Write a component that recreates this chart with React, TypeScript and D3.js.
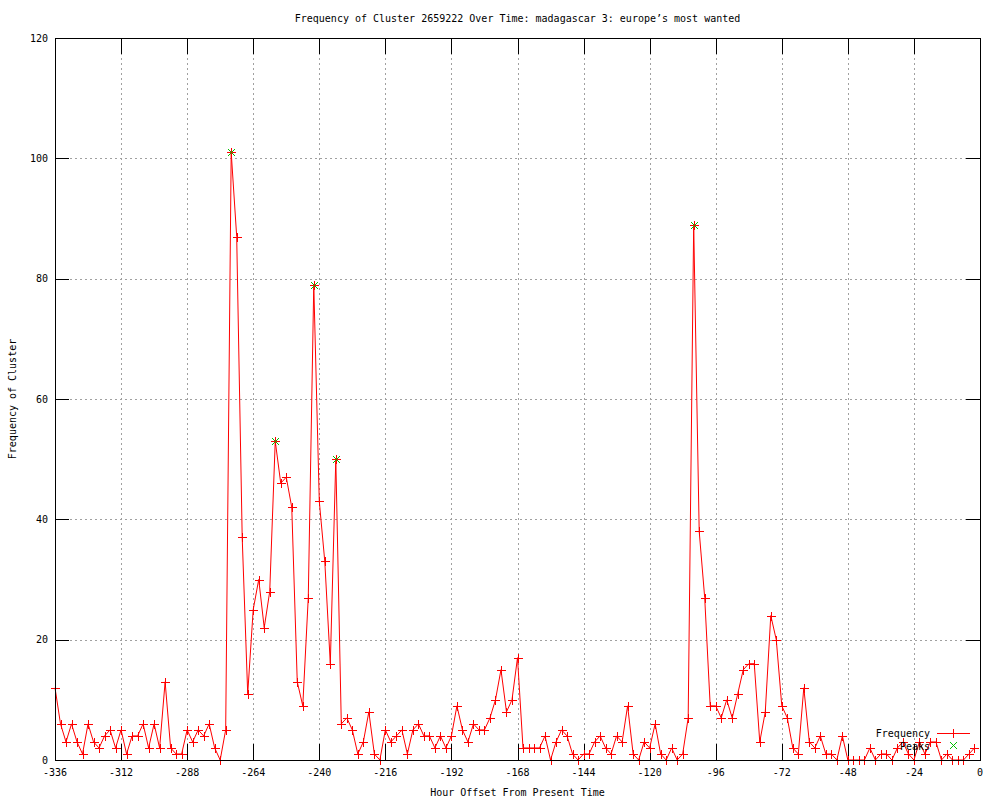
import React from 'react';
import * as d3 from 'd3';

const hours = [
  -336, -334, -332, -330, -328, -326, -324, -322, -320, -318, -316, -314, -312, -310, -308, -306,
  -304, -302, -300, -298, -296, -294, -292, -290, -288, -286, -284, -282, -280, -278, -276, -274,
  -272, -270, -268, -266, -264, -262, -260, -258, -256, -254, -252, -250, -248, -246, -244, -242,
  -240, -238, -236, -234, -232, -230, -228, -226, -224, -222, -220, -218, -216, -214, -212, -210,
  -208, -206, -204, -202, -200, -198, -196, -194, -192, -190, -188, -186, -184, -182, -180, -178,
  -176, -174, -172, -170, -168, -166, -164, -162, -160, -158, -156, -154, -152, -150, -148, -146,
  -144, -142, -140, -138, -136, -134, -132, -130, -128, -126, -124, -122, -120, -118, -116, -114,
  -112, -110, -108, -106, -104, -102, -100, -98, -96, -94, -92, -90, -88, -86, -84, -82,
  -80, -78, -76, -74, -72, -70, -68, -66, -64, -62, -60, -58, -56, -54, -52, -50,
  -48, -46, -44, -42, -40, -38, -36, -34, -32, -30, -28, -26, -24, -22, -20, -18,
  -16, -14, -12, -10, -8, -6, -4, -2,
];

const frequency = [
  12, 6, 3, 6, 3, 1, 6, 3, 2, 4, 5, 2, 5, 1, 4, 4,
  6, 2, 6, 2, 13, 2, 1, 1, 5, 3, 5, 4, 6, 2, 0, 5,
  101, 87, 37, 11, 25, 30, 22, 28, 53, 46, 47, 42, 13, 9, 27, 79,
  43, 33, 16, 50, 6, 7, 5, 1, 3, 8, 1, 0, 5, 3, 4, 5,
  1, 5, 6, 4, 4, 2, 4, 2, 4, 9, 5, 3, 6, 5, 5, 7,
  10, 15, 8, 10, 17, 2, 2, 2, 2, 4, 0, 3, 5, 4, 1, 0,
  1, 1, 3, 4, 2, 1, 4, 3, 9, 1, 0, 3, 2, 6, 1, 0,
  2, 0, 1, 7, 89, 38, 27, 9, 9, 7, 10, 7, 11, 15, 16, 16,
  3, 8, 24, 20, 9, 7, 2, 1, 12, 3, 2, 4, 1, 1, 0, 4,
  0, 0, 0, 0, 2, 0, 1, 1, 0, 2, 3, 1, 0, 3, 1, 3,
  3, 0, 1, 0, 0, 0, 1, 2,
];

const peakHours = [-272, -256, -242, -234, -104];
const peakValues = [101, 53, 79, 50, 89];

const xTicks = [-336, -312, -288, -264, -240, -216, -192, -168, -144, -120, -96, -72, -48, -24, 0];
const yTicks = [0, 20, 40, 60, 80, 100, 120];

const titleText = "Frequency of Cluster 2659222 Over Time: madagascar 3: europe\u2019s most wanted";
const xLabel = 'Hour Offset From Present Time';
const yLabel = 'Frequency of Cluster';

const W = 1000;
const H = 800;
const L = 55;
const R = 980;
const T = 38;
const B = 760;
const FONT = '"DejaVu Sans Mono", "Liberation Mono", monospace';

function Plus({ x, y, s, color }: { x: number; y: number; s: number; color: string }) {
  return (
    <path
      d={`M${x - s},${y}H${x + s}M${x},${y - s}V${y + s}`}
      stroke={color}
      strokeWidth={1}
      fill="none"
      shapeRendering="crispEdges"
    />
  );
}

function Cross({ x, y, s, color }: { x: number; y: number; s: number; color: string }) {
  return (
    <path
      d={`M${x - s},${y - s}L${x + s},${y + s}M${x - s},${y + s}L${x + s},${y - s}`}
      stroke={color}
      strokeWidth={1}
      fill="none"
    />
  );
}

export default function App() {
  const xs = d3.scaleLinear().domain([-336, 0]).range([L, R]);
  const ys = d3.scaleLinear().domain([0, 120]).range([B, T]);

  const data = hours.map((h, i) => ({ h, v: frequency[i] }));
  const line = d3
    .line<{ h: number; v: number }>()
    .x((d) => xs(d.h))
    .y((d) => ys(d.v));

  const tickX = 16;
  const tickY = 14;
  const gridColor = '#a0a0a0';

  return (
    <svg
      width={W}
      height={H}
      style={{ position: 'absolute', left: 0, top: 0, background: '#fff' }}
      fontFamily={FONT}
      fontSize={10}
    >
      <rect x={0} y={0} width={W} height={H} fill="#fff" />
      {/* grid */}
      <g stroke={gridColor} strokeDasharray="2,3" shapeRendering="crispEdges">
        {xTicks
          .filter((t) => t !== -336 && t !== 0)
          .map((t) => (
            <line key={'gx' + t} x1={Math.round(xs(t)) + 0.5} x2={Math.round(xs(t)) + 0.5} y1={T} y2={B} />
          ))}
        {yTicks
          .filter((t) => t !== 0 && t !== 120)
          .map((t) => (
            <line key={'gy' + t} x1={L} x2={R} y1={Math.round(ys(t)) + 0.5} y2={Math.round(ys(t)) + 0.5} />
          ))}
      </g>
      {/* ticks */}
      <g stroke="#000" shapeRendering="crispEdges">
        {xTicks.map((t) => {
          const x = Math.round(xs(t)) + 0.5;
          return (
            <g key={'tx' + t}>
              <line x1={x} x2={x} y1={B} y2={B - tickX} />
              <line x1={x} x2={x} y1={T} y2={T + tickX} />
            </g>
          );
        })}
        {yTicks.map((t) => {
          const y = Math.round(ys(t)) + 0.5;
          return (
            <g key={'ty' + t}>
              <line x1={L} x2={L + tickY} y1={y} y2={y} />
              <line x1={R} x2={R - tickY} y1={y} y2={y} />
            </g>
          );
        })}
      </g>
      {/* tick labels */}
      <g fill="#000">
        {xTicks.map((t) => (
          <text key={'lx' + t} x={xs(t)} y={776} textAnchor="middle">
            {t}
          </text>
        ))}
        {yTicks.map((t) => (
          <text key={'ly' + t} x={48} y={ys(t) + 3.5} textAnchor="end">
            {t}
          </text>
        ))}
      </g>
      {/* data line */}
      <path d={line(data) || ''} fill="none" stroke="#ff0000" strokeWidth={1} />
      {data.map((d, i) => (
        <Plus key={'p' + i} x={Math.round(xs(d.h)) + 0.5} y={Math.round(ys(d.v)) + 0.5} s={4.5} color="#ff0000" />
      ))}
      {/* peaks */}
      {peakHours.map((h, i) => (
        <Cross key={'pk' + h} x={Math.round(xs(h)) + 0.5} y={Math.round(ys(peakValues[i])) + 0.5} s={3.5} color="#00c000" />
      ))}
      {/* border */}
      <rect x={L + 0.5} y={T + 0.5} width={R - L} height={B - T} fill="none" stroke="#000" shapeRendering="crispEdges" />
      {/* legend */}
      <text x={930} y={737} textAnchor="end" fill="#000">
        Frequency
      </text>
      <line x1={937} x2={970} y1={733.5} y2={733.5} stroke="#ff0000" shapeRendering="crispEdges" />
      <Plus x={953.5} y={733.5} s={4.5} color="#ff0000" />
      <text x={930} y={750} textAnchor="end" fill="#000">
        Peaks
      </text>
      <Cross x={953.5} y={745.5} s={3.5} color="#00c000" />
      {/* titles */}
      <text x={517.5} y={22} textAnchor="middle" fill="#000">
        {titleText}
      </text>
      <text x={517.5} y={796} textAnchor="middle" fill="#000">
        {xLabel}
      </text>
      <text transform={`translate(16,399) rotate(-90)`} textAnchor="middle" fill="#000">
        {yLabel}
      </text>
    </svg>
  );
}
